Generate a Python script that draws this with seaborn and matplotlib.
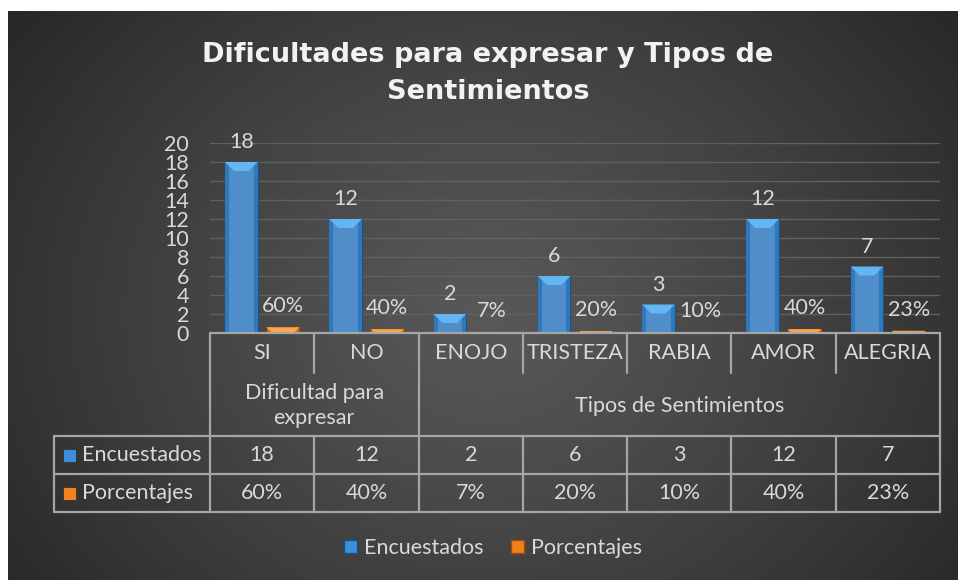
import warnings
warnings.filterwarnings('ignore')

import matplotlib
matplotlib.use('Agg')

import numpy as np
import pandas as pd
import matplotlib.pyplot as plt
import seaborn as sns
from matplotlib.patches import Rectangle, Patch, Polygon
from matplotlib.lines import Line2D
from matplotlib.transforms import blended_transform_factory

# Datos
categorias = ['SI', 'NO', 'ENOJO', 'TRISTEZA', 'RABIA', 'AMOR', 'ALEGRIA']
grupos = ['Dificultad para\nexpresar', 'Tipos de Sentimientos']
grupo_span = [(0, 2), (2, 7)]  # indices de categorias por grupo
encuestados = [18, 12, 2, 6, 3, 12, 7]
porcentajes = [0.60, 0.40, 0.07, 0.20, 0.10, 0.40, 0.23]
series = ['Encuestados', 'Porcentajes']
y_ticks = list(range(0, 21, 2))

df = pd.DataFrame({
    'categoria': categorias * 2,
    'serie': [series[0]] * len(categorias) + [series[1]] * len(categorias),
    'valor': encuestados + porcentajes,
})

AZUL = '#3b8fdc'
AZUL_CLARO = '#63b6f4'
AZUL_OSC = '#2f78bd'
NARANJA = '#f2801c'
NARANJA_CLARO = '#ffa54a'
NARANJA_OSC = '#d86a0c'
TEXTO = '#d9d9d9'
LINEA = '#a6a6a6'
FONT = 'Lato'
FS = 15.5

sns.set_style('dark')
plt.rcParams['font.family'] = [FONT, 'DejaVu Sans']

W, H = 958, 580
fig = plt.figure(figsize=(W / 100, H / 100), dpi=100)
fig.patch.set_facecolor('white')

# Fondo con degradado radial
bg = fig.add_axes([8 / W, 0, (W - 8) / W, (H - 11) / H])
yy, xx = np.mgrid[0:H - 11, 0:W - 8]
r = np.sqrt(((xx - 480) / 620) ** 2 + ((yy - 300) / 520) ** 2)
r = np.clip(r, 0, 1)
lum = 0.345 - (0.345 - 0.145) * r ** 1.2
bg.imshow(np.dstack([lum, lum, lum]), aspect='auto', interpolation='bilinear')
bg.set_axis_off()

# Area de trazado
L, R, T, B = 210, 940, 143, 333
ax = fig.add_axes([L / W, 1 - B / H, (R - L) / W, (B - T) / H])
ax.set_facecolor('none')

sns.barplot(
    data=df, x='categoria', y='valor', hue='serie', order=categorias,
    palette=[AZUL, NARANJA], width=0.8, gap=0.22, legend=False,
    edgecolor='#1d4f80', linewidth=0.8, ax=ax, zorder=3
)
for patch in ax.containers[1]:
    patch.set_edgecolor('#a04d05')

ax.set_xlim(-0.5, len(categorias) - 0.5)
ax.set_ylim(0, 20)

# efecto biselado sobre las barras que dibujo seaborn
px_x = (R - L) / len(categorias)   # pixeles por unidad x
px_y = (B - T) / 20                # pixeles por unidad y
for cont, (claro, osc) in zip(ax.containers, [(AZUL_CLARO, AZUL_OSC),
                                              (NARANJA_CLARO, NARANJA_OSC)]):
    for p in cont:
        x, w, h = p.get_x(), p.get_width(), p.get_height()
        hp = h * px_y
        d = min(9, hp) / px_y
        inset = min(9, hp) / px_x
        side = 4 / px_x
        ax.add_patch(Polygon([(x, 0), (x + side, 0), (x + side, h), (x, h)],
                             facecolor=osc, edgecolor='none', zorder=3.5))
        ax.add_patch(Polygon([(x + w - side, 0), (x + w, 0), (x + w, h),
                              (x + w - side, h)],
                             facecolor=osc, edgecolor='none', zorder=3.5))
        ax.add_patch(Polygon([(x, h), (x + w, h), (x + w - inset, h - d),
                              (x + inset, h - d)],
                             facecolor=claro, edgecolor='none', zorder=3.6))

ax.bar_label(ax.containers[0], labels=[str(v) for v in encuestados],
             padding=7, color=TEXTO, fontsize=FS)
ax.bar_label(ax.containers[1], labels=[f'{v:.0%}' for v in porcentajes],
             padding=8, color=TEXTO, fontsize=FS)

ax.set_yticks(y_ticks)
ax.set_yticklabels([str(t) for t in y_ticks], fontsize=FS, color=TEXTO)
ax.tick_params(axis='y', length=0, pad=15)
ax.tick_params(axis='x', length=0, labelbottom=False)
ax.set_xlabel('')
ax.set_ylabel('')
ax.grid(axis='y', color='#606060', linewidth=1, zorder=0)
ax.grid(axis='x', visible=False)
for s in ax.spines.values():
    s.set_visible(False)

# Titulo
fig.text(488 / W, 1 - 55 / H, 'Dificultades para expresar y Tipos de',
         ha='center', va='center', fontsize=19.5, fontweight='bold',
         color='#f2f2f2', family='DejaVu Sans')
fig.text(488 / W, 1 - 92 / H, 'Sentimientos',
         ha='center', va='center', fontsize=19.5, fontweight='bold',
         color='#f2f2f2', family='DejaVu Sans')

# Tabla de datos
tab = fig.add_axes([0, 0, 1, 1], zorder=5)
tab.set_xlim(0, W)
tab.set_ylim(H, 0)
tab.set_axis_off()
tab.patch.set_alpha(0)
bt = blended_transform_factory(ax.transData, tab.transData)

n = len(categorias)
y_top, y_cat, y_grp, y_enc, y_pct = 333, 373, 436, 474, 512
x0 = -0.5
x1 = n - 0.5
lw = 1.6
kw = dict(color=LINEA, linewidth=lw, transform=bt, clip_on=False)

# lineas horizontales
tab.add_line(Line2D([x0, x1], [y_top, y_top], **kw))
tab.add_line(Line2D([54, R], [y_grp, y_grp], color=LINEA, linewidth=lw))
tab.add_line(Line2D([54, R], [y_enc, y_enc], color=LINEA, linewidth=lw))
tab.add_line(Line2D([54, R], [y_pct, y_pct], color=LINEA, linewidth=lw))
tab.add_line(Line2D([54, 54], [y_grp, y_pct], color=LINEA, linewidth=lw))

# lineas verticales
for i in range(n + 1):
    xb = i - 0.5
    es_borde_grupo = any(xb == a - 0.5 for a, b in grupo_span) or xb == x1
    tab.add_line(Line2D([xb, xb], [y_top, y_grp if es_borde_grupo else y_cat], **kw))
    tab.add_line(Line2D([xb, xb], [y_grp, y_pct], **kw))

# textos
for i, c in enumerate(categorias):
    tab.text(i, (y_top + y_cat) / 2, c, transform=bt, ha='center', va='center',
             fontsize=FS, color=TEXTO)
    tab.text(i, (y_grp + y_enc) / 2, str(encuestados[i]), transform=bt,
             ha='center', va='center', fontsize=FS, color=TEXTO)
    tab.text(i, (y_enc + y_pct) / 2, f'{porcentajes[i]:.0%}', transform=bt,
             ha='center', va='center', fontsize=FS, color=TEXTO)

for g, (a, b) in zip(grupos, grupo_span):
    tab.text((a + b - 1) / 2, (y_cat + y_grp) / 2 + 1, g, transform=bt,
             ha='center', va='center', fontsize=FS, color=TEXTO,
             linespacing=1.3)

for k, (nombre, col) in enumerate(zip(series, [AZUL, NARANJA])):
    yc = (y_grp + y_enc) / 2 if k == 0 else (y_enc + y_pct) / 2
    tab.add_patch(Rectangle((63, yc - 6.5), 13, 13, facecolor=col,
                            edgecolor='#333333', linewidth=0.6))
    tab.text(82, yc, nombre, ha='left', va='center', fontsize=FS, color=TEXTO)

# Leyenda
handles = [Patch(facecolor=AZUL, edgecolor='#1d4f80'),
           Patch(facecolor=NARANJA, edgecolor='#a04d05')]
fig.legend(handles, series, loc='center', bbox_to_anchor=(493 / W, 1 - 548 / H),
           ncol=2, frameon=False, fontsize=FS, labelcolor=TEXTO,
           handlelength=0.6, handleheight=0.6, handletextpad=0.3,
           columnspacing=1.3)

fig.savefig('out.png', dpi=100, facecolor=fig.get_facecolor())
